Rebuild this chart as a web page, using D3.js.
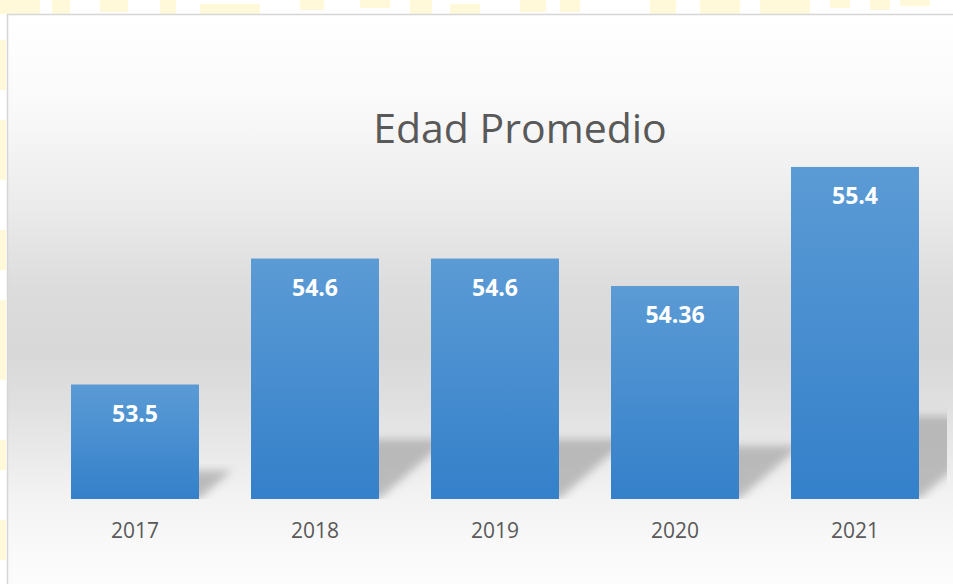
<!DOCTYPE html>
<html>
<head>
<meta charset="utf-8">
<script src="https://cdn.jsdelivr.net/npm/d3@7"></script>
<style>
  body { margin: 0; background: #fff; }
  svg { display: block; }
</style>
</head>
<body>
<div id="chart"></div>
<script>
// data
const years = ['2017', '2018', '2019', '2020', '2021'];
const edad = [53.5, 54.6, 54.6, 54.36, 55.4];
const chartTitle = 'Edad Promedio';

const data = years.map((y, i) => ({year: y, value: edad[i]}));

const W = 953, H = 584;
const panel = {x: 7, y: 14};
const plot = {left: 45, right: 945, top: 155.5, bottom: 499};

const svg = d3.select('#chart')
    .append('svg')
    .attr('width', W)
    .attr('height', H);

const defs = svg.append('defs');

// panel background gradient
const bg = defs.append('linearGradient')
    .attr('id', 'panelGrad')
    .attr('x1', 0).attr('y1', 0).attr('x2', 0).attr('y2', 1);
[[0, '#ffffff'], [0.15, '#fafafa'], [0.33, '#ebebeb'], [0.47, '#dcdcdc'],
 [0.58, '#d8d8d8'], [0.67, '#e0e0e0'], [0.72, '#e6e6e6'], [0.82, '#f2f2f2'],
 [0.91, '#f9f9f9'], [1, '#fdfdfd']]
    .forEach(([o, c]) => bg.append('stop').attr('offset', o).attr('stop-color', c));

// bar gradient
const bar = defs.append('linearGradient')
    .attr('id', 'barGrad')
    .attr('x1', 0).attr('y1', 0).attr('x2', 0).attr('y2', 1);
bar.append('stop').attr('offset', 0).attr('stop-color', '#5b9bd5');
bar.append('stop').attr('offset', 1).attr('stop-color', '#3480ca');

defs.append('filter')
    .attr('id', 'blur')
    .attr('x', '-20%').attr('y', '-20%').attr('width', '140%').attr('height', '140%')
    .append('feGaussianBlur')
    .attr('stdDeviation', 4);

defs.append('clipPath')
    .attr('id', 'plotClip')
    .append('rect')
    .attr('x', 0).attr('y', 0)
    .attr('width', 947).attr('height', plot.bottom);

// faint yellow watermark behind the panel
const marks = [[0, 0, 40, 14], [52, 0, 18, 14], [100, 0, 28, 12], [160, 0, 16, 14],
    [200, 4, 60, 10], [300, 0, 24, 10], [360, 0, 30, 8], [410, 0, 22, 14], [450, 4, 30, 10],
    [520, 0, 26, 12], [560, 0, 20, 12], [650, 0, 26, 14], [700, 0, 40, 14], [760, 0, 50, 14],
    [830, 0, 20, 8], [870, 0, 20, 10], [900, 0, 30, 6], [0, 40, 6, 50], [0, 120, 6, 60],
    [0, 230, 6, 40], [0, 300, 6, 80], [0, 440, 6, 30], [0, 520, 6, 40]];
svg.append('g')
    .selectAll('rect')
    .data(marks)
    .join('rect')
    .attr('x', d => d[0]).attr('y', d => d[1])
    .attr('width', d => d[2]).attr('height', d => d[3])
    .attr('fill', '#fff8d9');

// panel
svg.append('rect')
    .attr('x', panel.x + 0.5)
    .attr('y', panel.y + 0.5)
    .attr('width', W)
    .attr('height', H)
    .attr('fill', 'url(#panelGrad)')
    .attr('stroke', '#d6d6d6')
    .attr('stroke-width', 1.5);

// scales
const x = d3.scaleBand()
    .domain(years)
    .range([plot.left, plot.right])
    .paddingInner(52 / 180)
    .paddingOuter(26 / 180);

const y = d3.scaleLinear()
    .domain([52.5, 55.5])
    .range([plot.bottom, plot.top]);

// title
svg.append('text')
    .attr('x', 520)
    .attr('y', 143)
    .attr('text-anchor', 'middle')
    .style('font-family', '"Open Sans", "Noto Sans", sans-serif')
    .style('font-size', '41px')
    .attr('fill', '#595959')
    .text(chartTitle);

// shadows behind bars
const shadow = d3.line();
svg.append('g')
    .attr('clip-path', 'url(#plotClip)')
    .selectAll('path')
    .data(data)
    .join('path')
    .attr('d', d => {
        const x0 = x(d.year) + 6, x1 = x(d.year) + x.bandwidth();
        const sh = (plot.bottom - y(d.value)) * 0.25;
        const s = sh * 1.15;
        return shadow([[x0, plot.bottom], [x1, plot.bottom], [x1 + s, plot.bottom - sh],
            [x0 + s, plot.bottom - sh]]) + 'Z';
    })
    .attr('fill', '#a9a9a9')
    .attr('opacity', 0.75)
    .attr('filter', 'url(#blur)');

// bars
svg.append('g')
    .selectAll('rect')
    .data(data)
    .join('rect')
    .attr('x', d => x(d.year))
    .attr('y', d => y(d.value))
    .attr('width', x.bandwidth())
    .attr('height', d => plot.bottom - y(d.value))
    .attr('fill', 'url(#barGrad)');

// value labels
svg.append('g')
    .selectAll('text')
    .data(data)
    .join('text')
    .attr('x', d => x(d.year) + x.bandwidth() / 2)
    .attr('y', d => y(d.value) + 37)
    .attr('text-anchor', 'middle')
    .style('font-family', '"Open Sans", "Noto Sans", sans-serif')
    .style('font-size', '23px')
    .style('font-weight', 'bold')
    .attr('fill', '#ffffff')
    .text(d => d.value);

// x axis
const xAxis = svg.append('g')
    .attr('transform', `translate(0,${plot.bottom})`)
    .call(d3.axisBottom(x).tickSize(0).tickPadding(24));
xAxis.select('.domain').remove();
xAxis.selectAll('text')
    .style('font-family', '"Open Sans", "Noto Sans", sans-serif')
    .style('font-size', '21px')
    .attr('fill', '#595959');
</script>
</body>
</html>
